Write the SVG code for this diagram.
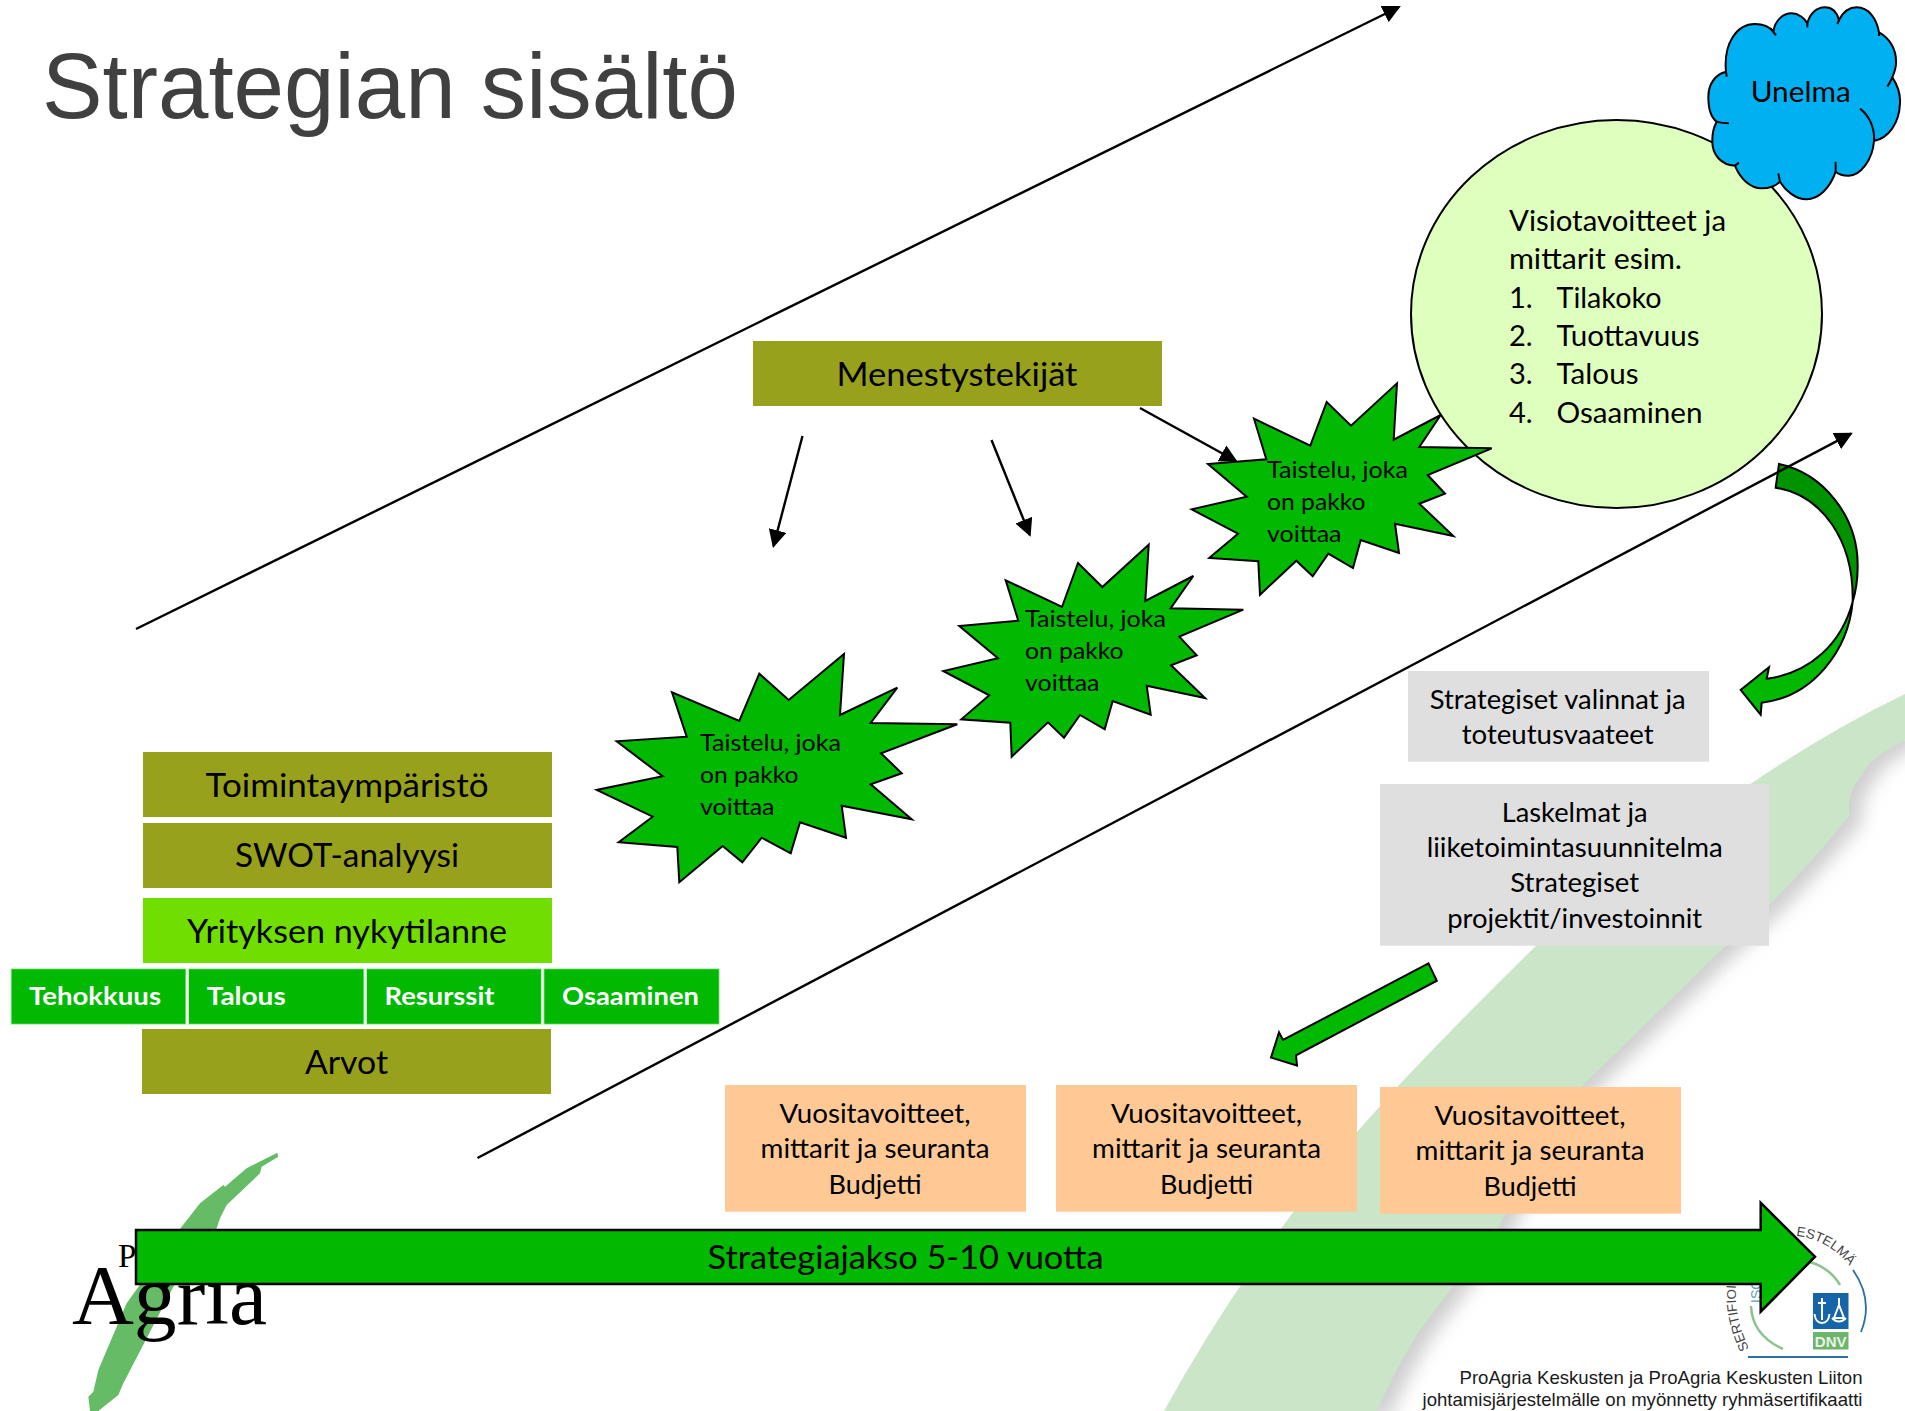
<svg xmlns="http://www.w3.org/2000/svg" width="1905" height="1411" viewBox="0 0 1905 1411">
<style>
text{font-family:"Lato","Carlito","Noto Sans",sans-serif;fill:#000}
.olive{fill:#98A11C}
.gray{fill:#DFDFDF}
.peach{fill:#FFC995}
.cell{fill:#00B900;stroke:#C8F0C8;stroke-width:1}
.star{fill:#00B900;stroke:#000;stroke-width:2;stroke-linejoin:miter}
.big{font-size:33.7px;text-anchor:middle}
.mid{font-size:26.6px;text-anchor:middle}
.st{font-size:24px}
.circ{font-size:29px}
.cellt{font-size:25px;font-weight:700;fill:#fff}
.foot{font-family:"Liberation Sans",Arial,sans-serif;font-size:18.5px;fill:#1a1a1a;text-anchor:end}
.ln{stroke:#000;stroke-width:2.4;fill:none;marker-end:url(#tip)}
.blk{stroke:#000;stroke-width:2;stroke-linejoin:miter}
</style>
<defs>
<marker id="tip" markerUnits="userSpaceOnUse" markerWidth="18" markerHeight="18" viewBox="0 0 18 18" refX="16" refY="9" orient="auto"><path d="M0,0L18,9L0,18Z" fill="#000"/></marker>
<filter id="soft" x="-20%" y="-20%" width="140%" height="140%"><feGaussianBlur stdDeviation="9"/></filter>
<path id="band" d="M1164,1411Q1220,1310 1280,1230Q1320,1175 1357,1132L1398,1086Q1470,1010 1536,946Q1650,850 1752,783Q1830,730 1905,694L1905,741Q1870,757 1862,775Q1845,795 1850,815Q1790,890 1716,955Q1650,1020 1582,1086Q1530,1160 1500,1225Q1450,1290 1418,1333Q1395,1370 1377,1411Z"/>
<path id="certL" d="M1749,1349C1736,1320 1733,1300 1738,1268"/>
<path id="certR" d="M1796,1236C1818,1238 1838,1250 1851,1268"/>
</defs>
<rect width="1905" height="1411" fill="#fff"/>

<g id="background">
<use href="#band" fill="#cfcfcf" filter="url(#soft)" transform="translate(13,6)"/>
<use href="#band" fill="#CBE5C8"/>
</g>

<g id="logo-proagria">
<path transform="translate(60,1130) scale(.33333)" fill="#66BB66" d="M652,68L655,80L605,110L600,130L500,225L480,265L470,295L340,470L190,760L175,795L115,843L90,843L85,800L100,785L115,720L200,520L365,290L420,220L490,165L495,170L560,115Z"/>
<text x="118" y="1267" font-size="33" style="font-family:'Liberation Serif',serif">P</text>
<text x="72" y="1324" font-size="85" textLength="195" lengthAdjust="spacingAndGlyphs" style="font-family:'Liberation Serif',serif">Agria</text>
</g>

<g id="logo-dnv">
<rect x="1813" y="1293" width="35.5" height="36" fill="#1565A8"/>
<path d="M1822,1298v22M1818,1303h8M1814.5,1314q1,9 7.500,9q6.500,0 7.500,-9M1839,1298v7M1834,1318l5,-13l5,13zM1832,1318q7,7 14,0" fill="none" stroke="#fff" stroke-width="2"/>
<rect x="1813" y="1332" width="35.500" height="17.500" fill="#6DB56D"/>
<text x="1830.700" y="1346.500" font-size="15" text-anchor="middle" style="font-family:'Liberation Sans',sans-serif;font-weight:700;fill:#e8f4e8">DNV</text>
<path d="M1853,1270Q1874,1300 1861,1332" fill="none" stroke="#2F70A0" stroke-width="1.800"/>
<path d="M1748,1357H1848" stroke="#2F70A0" stroke-width="2"/>
<path d="M1810,1262Q1830,1268 1840,1285" fill="none" stroke="#8CC48C" stroke-width="2.500"/>
<path d="M1751,1306Q1752,1335 1783,1349" fill="none" stroke="#8CC48C" stroke-width="2.500"/>
<text font-size="13.500" style="font-family:'Liberation Sans',sans-serif;fill:#444"><textPath href="#certL">SERTIFIOIT</textPath></text>
<text font-size="13.500" style="font-family:'Liberation Sans',sans-serif;fill:#444"><textPath href="#certR">ESTELMÄ</textPath></text>
<text transform="translate(1761,1303) rotate(-90)" font-size="14" style="font-family:'Liberation Sans',sans-serif;fill:#5C9CC0">ISO</text>
</g>

<g id="title"><text x="42" y="117.500" font-size="93" textLength="696" lengthAdjust="spacingAndGlyphs" style="font-family:'Liberation Sans',Arial,sans-serif;fill:#404040">Strategian sisältö</text></g>

<g id="visio">
<ellipse cx="1616.500" cy="314" rx="205.500" ry="194" fill="#DFFFBE" stroke="#000" stroke-width="2"/>
<text class="circ" x="1509" y="231" textLength="217" lengthAdjust="spacingAndGlyphs">Visiotavoitteet ja</text>
<text class="circ" x="1509" y="269.300" textLength="173" lengthAdjust="spacingAndGlyphs">mittarit esim.</text>
<text class="circ" x="1509" y="307.600">1.</text><text class="circ" x="1556.500" y="307.600" textLength="105" lengthAdjust="spacingAndGlyphs">Tilakoko</text>
<text class="circ" x="1509" y="346">2.</text><text class="circ" x="1556.500" y="346" textLength="143" lengthAdjust="spacingAndGlyphs">Tuottavuus</text>
<text class="circ" x="1509" y="384.300">3.</text><text class="circ" x="1556.500" y="384.300" textLength="82" lengthAdjust="spacingAndGlyphs">Talous</text>
<text class="circ" x="1509" y="423">4.</text><text class="circ" x="1556.500" y="423" textLength="146" lengthAdjust="spacingAndGlyphs">Osaaminen</text>
</g>

<g id="unelma">
<g transform="translate(1680,0) scale(.33333)" stroke="#000" stroke-width="6">
<path fill="#00B0F0" d="M138,215C130,130 170,72 225,72C250,72 268,80 280,95C285,60 310,40 335,40C355,40 375,55 382,70C390,40 410,22 435,22C455,22 470,35 477,60C490,35 510,22 530,22C565,22 590,55 597,97C630,115 650,150 648,190C648,205 642,220 637,232C652,255 662,280 660,310C658,370 625,415 582,423C578,480 540,528 505,527C490,527 475,522 467,515C450,565 415,598 380,598C345,598 315,570 300,545C285,560 265,565 245,565C210,565 180,535 165,497C125,495 95,465 97,420C97,400 102,380 110,365C90,350 85,320 85,290C85,255 105,222 138,215Z"/>
<path fill="none" d="M138,215L140,230M272,85Q280,95 288,106M382,70V82M477,60L472,72M597,97V108M637,232Q630,248 622,260M540,326C565,345 585,380 582,423M467,485V515M295,520L300,545M177,488L165,497M110,365Q125,370 147,370"/>
</g>
<text x="1750.700" y="101.700" font-size="28.800" textLength="100" lengthAdjust="spacingAndGlyphs">Unelma</text>
</g>

<g id="connectors">
<g transform="translate(1680,420) scale(.33333)" stroke="#000" stroke-width="6" stroke-linejoin="miter">
<path fill="#009300" d="M297,132C430,160 535,290 533,440C533,480 527,515 518,545C522,360 425,225 287,203Z"/>
<path fill="#00B900" d="M518,545C505,690 400,830 245,848L242,884L182,810L267,742L260,776C390,760 485,670 518,545Z"/>
</g>
<path class="ln" d="M136,629L1399,7"/>
<path class="ln" d="M477.500,1158L1851,433.600"/>
<path class="ln" d="M802.500,436L773.500,546"/>
<path class="ln" d="M991.500,440L1029.800,535"/>
<path class="ln" d="M1140,408L1236,461"/>
<polygon class="blk" fill="#00B900" points="1428.500,963.400 1436.800,980.700 1296,1055.300 1297,1065.500 1271,1057.600 1279,1032.400 1283,1040"/>
</g>

<g id="star1">
<polygon class="star" points="844,654 840,715 897.300,687.700 870.700,723 957.300,724.300 881,753.300 901.700,773.300 870.700,784.300 911.700,819.300 841.700,805.700 846,837.700 800,822.300 790.700,853.300 761.700,837.700 742.300,862.300 722.700,846 679.300,882.300 677.300,847 618.700,842.300 652.700,816.700 596.700,790 662.700,776.300 616.700,741.300 686.700,736.700 672,692.300 739.300,721 759.300,673.700 788.700,700"/>
<text class="st" x="700" y="751" textLength="141" lengthAdjust="spacingAndGlyphs">Taistelu, joka</text>
<text class="st" x="700" y="783.300" textLength="98.500" lengthAdjust="spacingAndGlyphs">on pakko</text>
<text class="st" x="700" y="815" textLength="74.500" lengthAdjust="spacingAndGlyphs">voittaa</text>
</g>
<g id="star2">
<polygon class="star" points="1148.700,544.700 1145.300,601 1193.300,576 1170.700,608.300 1243.300,609.700 1179.300,636.700 1196.700,655.300 1171,665.300 1205,698 1146.700,685.700 1150.700,714.700 1112.700,701 1104.700,729.300 1080,715 1064,737.700 1048,722.300 1011.700,756.700 1010.300,722.700 961.300,719.300 989.300,695.300 943.300,671 998,658.300 959.300,626 1018.300,620.700 1005.700,580.300 1062,607 1078,563 1102.300,587"/>
<text class="st" x="1025" y="626.700" textLength="141" lengthAdjust="spacingAndGlyphs">Taistelu, joka</text>
<text class="st" x="1025" y="659" textLength="98.500" lengthAdjust="spacingAndGlyphs">on pakko</text>
<text class="st" x="1025" y="691" textLength="74.500" lengthAdjust="spacingAndGlyphs">voittaa</text>
</g>
<g id="star3">
<polygon class="star" points="1397,383.300 1393.700,439.700 1440.700,415 1419.300,447 1491.700,448.300 1427.700,475 1445,493.700 1419.300,503.700 1453.300,536 1395,523.700 1399,553 1360.700,540 1353,568 1328.300,553.700 1312.700,576.300 1296.300,560.700 1260,594.700 1258.300,561.300 1209.300,558 1238,533.700 1191.700,509.300 1246.700,496.700 1208,464 1266.300,459.300 1254,418.700 1310.300,445.700 1326.700,402 1351,425.700"/>
<text class="st" x="1267" y="478.300" textLength="141" lengthAdjust="spacingAndGlyphs">Taistelu, joka</text>
<text class="st" x="1267" y="510.300" textLength="98.500" lengthAdjust="spacingAndGlyphs">on pakko</text>
<text class="st" x="1267" y="542" textLength="74.500" lengthAdjust="spacingAndGlyphs">voittaa</text>
</g>

<g id="menestystekijat"><rect class="olive" x="753" y="341" width="409" height="65"/><text class="big" x="957" y="385.500" textLength="241" lengthAdjust="spacingAndGlyphs">Menestystekijät</text></g>
<g id="toimintaymparisto"><rect class="olive" x="143" y="752" width="409" height="65"/><text class="big" x="347" y="797" textLength="283" lengthAdjust="spacingAndGlyphs">Toimintaympäristö</text></g>
<g id="swot"><rect class="olive" x="143" y="823" width="409" height="65"/><text class="big" x="347" y="867" textLength="224" lengthAdjust="spacingAndGlyphs">SWOT-analyysi</text></g>
<g id="nykytilanne"><rect x="143" y="898" width="409" height="65" fill="#70DF00"/><text class="big" x="347" y="943" textLength="320" lengthAdjust="spacingAndGlyphs">Yrityksen nykytilanne</text></g>
<g id="tehokkuus"><rect class="cell" x="11" y="968.700" width="175" height="55.600"/><text class="cellt" x="29" y="1005" textLength="132" lengthAdjust="spacingAndGlyphs">Tehokkuus</text></g>
<g id="talous"><rect class="cell" x="188.500" y="968.700" width="175.500" height="55.600"/><text class="cellt" x="206.700" y="1005" textLength="79" lengthAdjust="spacingAndGlyphs">Talous</text></g>
<g id="resurssit"><rect class="cell" x="366.400" y="968.700" width="175" height="55.600"/><text class="cellt" x="384.500" y="1005" textLength="110" lengthAdjust="spacingAndGlyphs">Resurssit</text></g>
<g id="osaaminen"><rect class="cell" x="543.800" y="968.700" width="175.500" height="55.600"/><text class="cellt" x="562" y="1005" textLength="137" lengthAdjust="spacingAndGlyphs">Osaaminen</text></g>
<g id="arvot"><rect class="olive" x="142" y="1029" width="409" height="65"/><text class="big" x="346.500" y="1074" textLength="83" lengthAdjust="spacingAndGlyphs">Arvot</text></g>

<g id="valinnat"><rect class="gray" x="1408" y="671" width="301" height="90.700"/>
<text class="mid" x="1557.700" y="709.300" textLength="256" lengthAdjust="spacingAndGlyphs">Strategiset valinnat ja</text>
<text class="mid" x="1557.700" y="744" textLength="192" lengthAdjust="spacingAndGlyphs">toteutusvaateet</text></g>
<g id="laskelmat"><rect class="gray" x="1380" y="784" width="389" height="161.700"/>
<text class="mid" x="1574.700" y="822.300" textLength="146" lengthAdjust="spacingAndGlyphs">Laskelmat ja</text>
<text class="mid" x="1574.700" y="857" textLength="296" lengthAdjust="spacingAndGlyphs">liiketoimintasuunnitelma</text>
<text class="mid" x="1574.700" y="891.700" textLength="129" lengthAdjust="spacingAndGlyphs">Strategiset</text>
<text class="mid" x="1574.700" y="927.700" textLength="255" lengthAdjust="spacingAndGlyphs">projektit/investoinnit</text></g>

<g id="vuosi1"><rect class="peach" x="725" y="1085" width="301" height="126.700"/>
<text class="mid" x="875" y="1122.700" textLength="191" lengthAdjust="spacingAndGlyphs">Vuositavoitteet,</text>
<text class="mid" x="875" y="1158" textLength="229" lengthAdjust="spacingAndGlyphs">mittarit ja seuranta</text>
<text class="mid" x="875" y="1194" textLength="93" lengthAdjust="spacingAndGlyphs">Budjetti</text></g>
<g id="vuosi2"><rect class="peach" x="1056" y="1085" width="301" height="126.700"/>
<text class="mid" x="1206.500" y="1122.700" textLength="191" lengthAdjust="spacingAndGlyphs">Vuositavoitteet,</text>
<text class="mid" x="1206.500" y="1158" textLength="229" lengthAdjust="spacingAndGlyphs">mittarit ja seuranta</text>
<text class="mid" x="1206.500" y="1194" textLength="93" lengthAdjust="spacingAndGlyphs">Budjetti</text></g>
<g id="vuosi3"><rect class="peach" x="1380" y="1087" width="301" height="126.700"/>
<text class="mid" x="1530" y="1124.700" textLength="191" lengthAdjust="spacingAndGlyphs">Vuositavoitteet,</text>
<text class="mid" x="1530" y="1160" textLength="229" lengthAdjust="spacingAndGlyphs">mittarit ja seuranta</text>
<text class="mid" x="1530" y="1196" textLength="93" lengthAdjust="spacingAndGlyphs">Budjetti</text></g>

<g id="strategiajakso">
<polygon points="136,1230 1760.700,1230 1760.700,1202.700 1815,1256.700 1760.700,1311.700 1760.700,1284 136,1284" fill="#00B900" stroke="#000" stroke-width="2.500" stroke-linejoin="miter"/>
<text x="707.600" y="1268.500" font-size="33.700" textLength="396" lengthAdjust="spacingAndGlyphs">Strategiajakso 5-10 vuotta</text>
</g>

<g id="footer">
<text class="foot" x="1862.500" y="1384" textLength="403" lengthAdjust="spacingAndGlyphs">ProAgria Keskusten ja ProAgria Keskusten Liiton</text>
<text class="foot" x="1862.500" y="1406" textLength="440" lengthAdjust="spacingAndGlyphs">johtamisjärjestelmälle on myönnetty ryhmäsertifikaatti</text>
</g>
</svg>
